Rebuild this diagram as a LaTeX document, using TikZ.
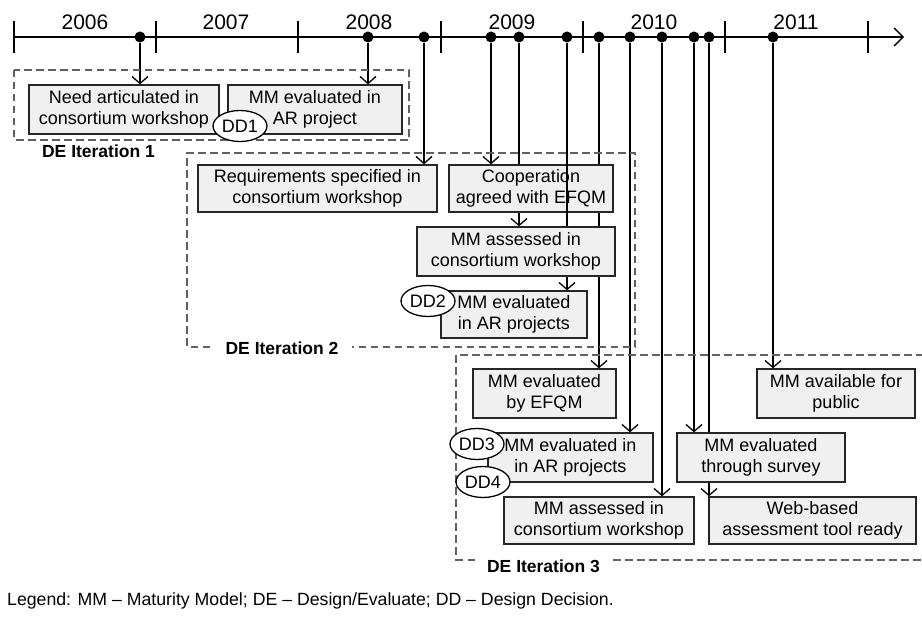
\documentclass[tikz,border=0pt]{standalone}
\usepackage{fontspec}
\setmainfont{Liberation Sans}
\usetikzlibrary{arrows.meta,shapes.geometric}
\pgfdeclarelayer{back}
\pgfdeclarelayer{coop}
\pgfdeclarelayer{over}
\pgfsetlayers{back,coop,over,main}

\begin{document}
\begin{tikzpicture}[x=1pt,y=-1pt,
  box/.style={draw=black!85, line width=1.3pt, fill=black!6, align=center,
    inner sep=0pt, font=\fontsize{18}{20.5}\selectfont},
  dd/.style={ellipse, draw=black, line width=1.3pt, fill=white, inner sep=0pt,
    minimum width=54pt, minimum height=31pt, font=\fontsize{18}{20.5}\selectfont},
  dot/.style={circle, fill=black, inner sep=0pt, minimum size=11pt},
  conn/.style={line width=1.3pt, -{Straight Barb[length=7pt,width=16pt]}},
  frame/.style={draw=black!62, line width=1.3pt, dash pattern=on 7.5pt off 4.5pt},
  itlabel/.style={font=\bfseries\fontsize{17.5}{20}\selectfont, inner sep=0pt, anchor=base},
  year/.style={font=\fontsize{21}{24}\selectfont, inner sep=0pt, anchor=base},
  tick/.style={line width=1.3pt}]

\useasboundingbox (0,0) rectangle (922,617);

% ---- time axis ----
\coordinate (axstart) at (14,37);
\coordinate (axend) at (904,37);
\draw[line width=1.3pt, -{Straight Barb[length=9pt,width=18pt]}] (axstart) -- (axend);
\foreach \tx in {14,156,298,441,583,725,868}
  \draw[tick] (\tx,21) -- (\tx,53);
\node[year] (y06) at (85,30) {2006};
\node[year] (y07) at (226,30) {2007};
\node[year] (y08) at (369,30) {2008};
\node[year] (y09) at (512,30) {2009};
\node[year] (y10) at (654,30) {2010};
\node[year] (y11) at (796,30) {2011};

% events on the axis
\node[dot] (d1) at (140,37) {};
\node[dot] (d2) at (368,37) {};
\node[dot] (d3) at (424,37) {};
\node[dot] (d4) at (491,37) {};
\node[dot] (d5) at (519,37) {};
\node[dot] (d6) at (567,37) {};
\node[dot] (d7) at (599,37) {};
\node[dot] (d8) at (630,37) {};
\node[dot] (d9) at (662,37) {};
\node[dot] (d10) at (694,37) {};
\node[dot] (d11) at (709,37) {};
\node[dot] (d12) at (773,37) {};

% ---- iteration frames ----
\draw[frame] (14,70) rectangle (409,140);
\node[itlabel] (it1) at (98.5,158) {DE Iteration 1};

\draw[frame] (210,347) -- (187,347) -- (187,153) -- (635,153) -- (635,347) -- (352,347);
\node[itlabel] (it2) at (282,355) {DE Iteration 2};

\draw[frame] (475,560) -- (456,560) -- (456,355) -- (922,355);
\draw[frame] (613,560) -- (922,560);
\node[itlabel] (it3) at (543.5,573) {DE Iteration 3};

% ---- activities ----
\node[box, minimum width=190pt, minimum height=49pt] (b1) at (124,109.5)
  {Need articulated in\\consortium workshop};
\node[box, minimum width=174pt, minimum height=49pt] (b2) at (315,109.5)
  {MM evaluated in\\AR project};

\node[box, minimum width=239pt, minimum height=47pt] (b3) at (317.5,188.5)
  {Requirements specified in\\consortium workshop};
\begin{pgfonlayer}{coop}
\node[box, minimum width=164pt, minimum height=47pt] (b4) at (531,188.5)
  {Cooperation\\agreed with EFQM};
\end{pgfonlayer}
\node[box, minimum width=198pt, minimum height=49pt] (b5) at (516,251.5)
  {MM assessed in\\consortium workshop};
\node[box, minimum width=146pt, minimum height=47pt] (b6) at (514,314.5)
  {MM evaluated\\in AR projects};

\node[box, minimum width=143pt, minimum height=49pt] (b7) at (544.5,393.5)
  {MM evaluated\\by EFQM};
\node[box, minimum width=158pt, minimum height=49pt] (b8) at (836,393.5)
  {MM available for\\public};
\node[box, minimum width=165pt, minimum height=49pt] (b9) at (570.5,457.5)
  {MM evaluated in\\in AR projects};
\node[box, minimum width=168pt, minimum height=49pt] (b10) at (761,457.5)
  {MM evaluated\\through survey};
\node[box, minimum width=190pt, minimum height=47pt] (b11) at (599,520.5)
  {MM assessed in\\consortium workshop};
\node[box, minimum width=207pt, minimum height=47pt] (b12) at (812.5,520.5)
  {Web-based\\assessment tool ready};

% ---- design decisions ----
\node[dd] (dd1) at (240,126) {DD1};
\node[dd] (dd2) at (428,301) {DD2};
\node[dd] (dd3) at (477,444) {DD3};
\node[dd] (dd4) at (483,482) {DD4};

% ---- connectors from the axis ----
\begin{pgfonlayer}{back}
\draw[conn] (d1) -- (d1 |- b1.north);
\draw[conn] (d2) -- (d2 |- b2.north);
\draw[conn] (d3) -- (d3 |- b3.north);
\draw[conn] (d4) -- (d4 |- b4.north);
\draw[conn] (d5) -- (d5 |- b5.north);
\draw[conn] (d7) -- (d7 |- b7.north);
\draw[conn] (d8) -- (d8 |- b9.north);
\draw[conn] (d9) -- (d9 |- b11.north);
\draw[conn] (d10) -- (d10 |- b10.north);
\draw[conn] (d11) -- (d11 |- b12.north);
\draw[conn] (d12) -- (d12 |- b8.north);
\end{pgfonlayer}
\begin{pgfonlayer}{over}
\draw[conn] (d6) -- (d6 |- b6.north);
\end{pgfonlayer}

% ---- legend ----
\node[inner sep=0pt, anchor=base west, font=\fontsize{17.7}{20}\selectfont] (legend) at (7,606)
  {Legend: MM -- Maturity Model; DE -- Design/Evaluate; DD -- Design Decision.};

\end{tikzpicture}
\end{document}
